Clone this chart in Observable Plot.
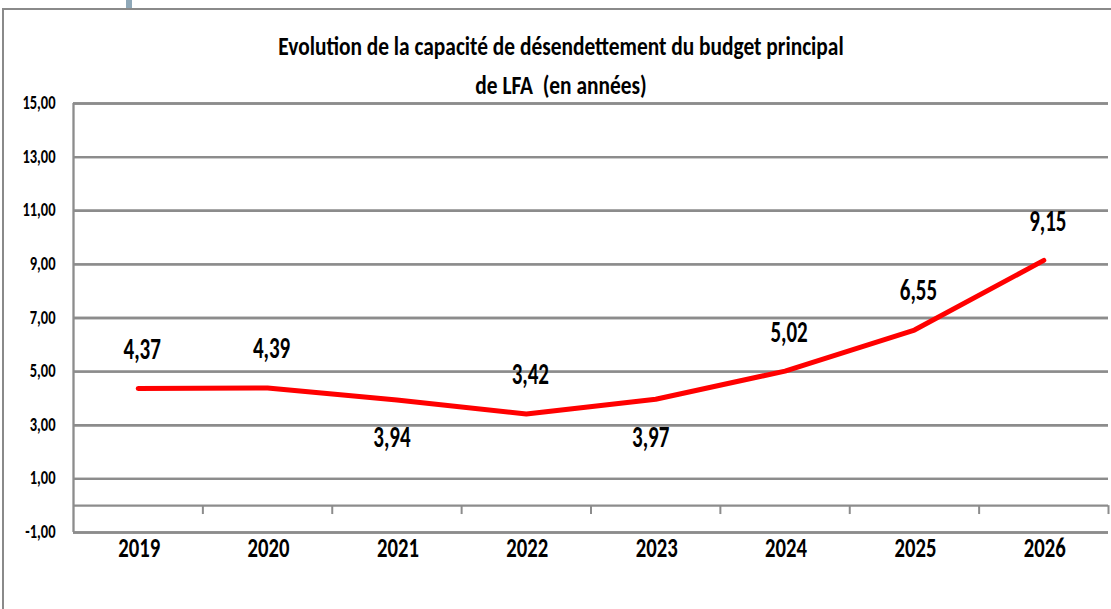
<!DOCTYPE html>
<html>
<head>
<meta charset="utf-8">
<script src="https://cdn.jsdelivr.net/npm/d3@7"></script>
<script src="https://cdn.jsdelivr.net/npm/@observablehq/plot@0.6"></script>
<style>
  html, body { margin: 0; padding: 0; background: #fff; overflow: hidden; }
  body { width: 1111px; height: 609px; position: relative; font-family: Carlito, Calibri, sans-serif; }
  #frame { position: absolute; left: 2px; top: 8px; width: 1200px; height: 700px;
           border-left: 2px solid #8a8a8a; border-top: 2px solid #8a8a8a; }
  #tab { position: absolute; left: 126px; top: 0; width: 6px; height: 8px; background: #8fa8b8; }
  .title { position: absolute; left: 0; width: 1122px; text-align: center; white-space: pre;
           font-weight: bold; font-size: 21.4px; height: 30px; line-height: 30px; color: #000;
           transform: scaleY(1.18); transform-origin: center; }
  #chart { position: absolute; left: 0; top: 0; }
</style>
</head>
<body>
<div id="frame"></div>
<div id="tab"></div>
<div class="title" style="top:32px">Evolution de la capacité de désendettement du budget principal</div>
<div class="title" style="top:71px">de LFA  (en années)</div>
<div id="chart"></div>
<script>
const years = ["2019", "2020", "2021", "2022", "2023", "2024", "2025", "2026"];
const values = [4.37, 4.39, 3.94, 3.42, 3.97, 5.02, 6.55, 9.15];
const labelSide = ["above", "above", "below", "above", "below", "above", "above", "above"];
const yTicks = [-1, 1, 3, 5, 7, 9, 11, 13, 15];

const data = years.map((y, i) => ({year: y, i: i + 0.5, value: values[i], side: labelSide[i]}));
const locale = d3.formatLocale({decimal: ",", thousands: " ", grouping: [3], currency: ["", " €"], minus: "-"});
const fmt = locale.format(".2f");
const grid = "#8c8c8c";

const plot = Plot.plot({
  width: 1111,
  height: 609,
  marginLeft: 73,
  marginRight: 3,
  marginTop: 103,
  marginBottom: 77,
  style: {background: "transparent", fontFamily: "Carlito, Calibri, sans-serif", color: "#000"},
  x: {type: "linear", domain: [0, years.length], axis: null},
  y: {domain: [-1, 15], axis: null},
  marks: [
    Plot.ruleY(yTicks, {stroke: grid, strokeWidth: 2.3}),
    Plot.ruleY([0], {stroke: grid, strokeWidth: 2.3}),
    Plot.ruleX(d3.range(1, years.length + 1), {y1: 0, y2: -0.33, stroke: grid, strokeWidth: 2}),
    Plot.ruleX([0], {y1: -1, y2: 15, stroke: grid, strokeWidth: 2.3}),
    Plot.tickY(yTicks, {x1: -0.031, x2: 0, stroke: grid, strokeWidth: 2.3, clip: false}),
    Plot.text(yTicks, {x: 0, y: d => d, text: fmt, textAnchor: "end", dx: -18, dy: -1, fontSize: 14.5, fontWeight: "bold", fill: "#000"}),
    Plot.text(data, {x: "i", y: -1, text: "year", dy: 15, dx: 1, fontSize: 20.7, fontWeight: "bold", fill: "#000"}),
    Plot.line(data, {x: "i", y: "value", stroke: "#ff0000", strokeWidth: 5, strokeLinecap: "round", strokeLinejoin: "miter"}),
    Plot.text(data.filter(d => d.side === "above"), {x: "i", y: "value", text: d => fmt(d.value), dy: -39, dx: 4, fontSize: 21, fontWeight: "bold", fill: "#000"}),
    Plot.text(data.filter(d => d.side === "below"), {x: "i", y: "value", text: d => fmt(d.value), dy: 38, dx: -5, fontSize: 21, fontWeight: "bold", fill: "#000"})
  ]
});
// Stretch glyphs vertically (the reference text is taller than it is wide), about each text's anchor
d3.select(plot).selectAll("text").each(function() {
  const el = d3.select(this);
  const t = el.attr("transform");
  if (t) el.attr("transform", `${t} scale(1,1.4)`);
});
document.getElementById("chart").appendChild(plot);
</script>
</body>
</html>
